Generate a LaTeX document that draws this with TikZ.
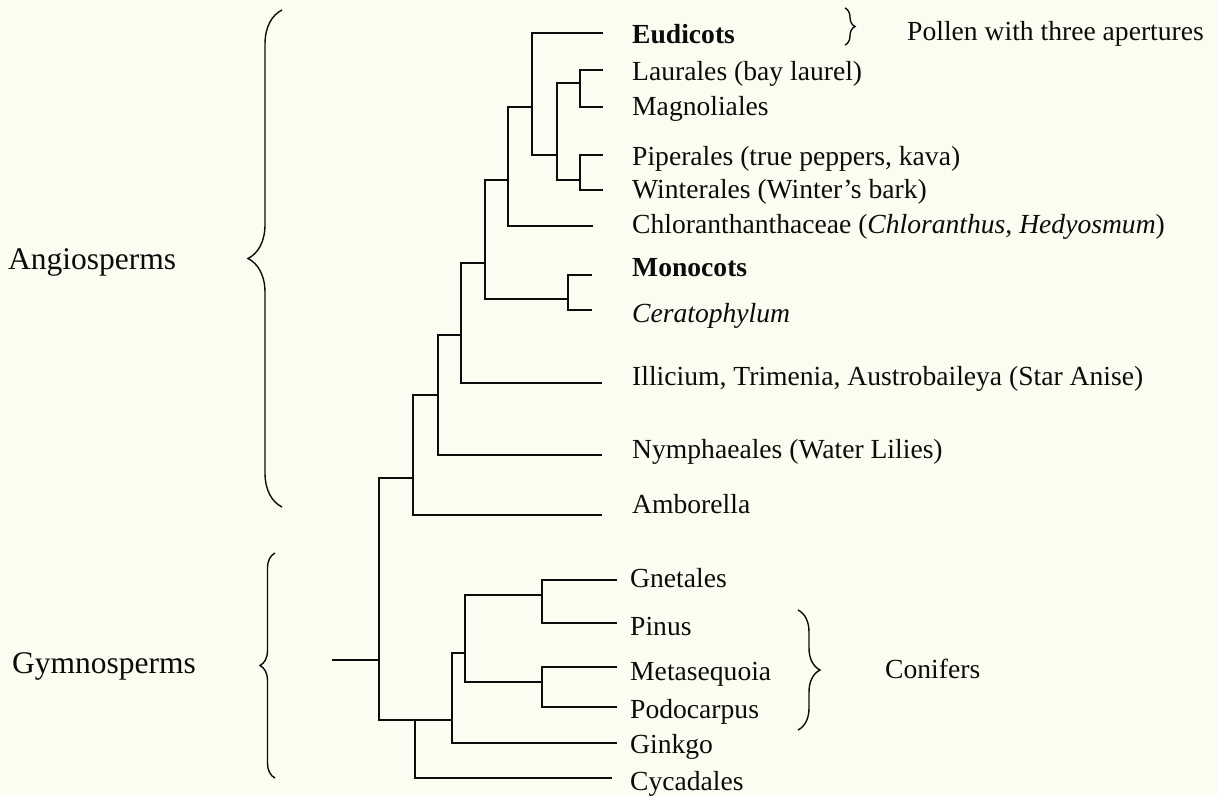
\documentclass[tikz,border=0pt]{standalone}
\usepackage{fontspec}
\setmainfont{Liberation Serif}
\usetikzlibrary{decorations.pathreplacing}
\definecolor{paper}{RGB}{252,253,240}
\definecolor{ink}{RGB}{12,12,12}
\begin{document}
\begin{tikzpicture}[x=1pt,y=-1pt,
  branch/.style={draw=ink, line width=2pt, line join=miter},
  taxon/.style={anchor=base west, inner sep=0pt, text=ink, font=\fontsize{27.6}{30}\selectfont},
  group/.style={anchor=base west, inner sep=0pt, text=ink, font=\fontsize{31.5}{36}\selectfont},
  bracket/.style={draw=ink, line width=1.4pt, decorate, decoration={brace, amplitude=#1}}]
\fill[paper] (0,0) rectangle (1217,796);
\useasboundingbox (0,0) rectangle (1217,796);

% taxon labels
\node[taxon] (tEud) at (632,43) {\textbf{Eudicots}};
\node[taxon] (tLau) at (632,80) {Laurales (bay laurel)};
\node[taxon] (tMag) at (632,115) {Magnoliales};
\node[taxon] (tPip) at (632,165) {Piperales (true peppers, kava)};
\node[taxon] (tWin) at (632,198) {Winterales (Winter’s bark)};
\node[taxon] (tChl) at (632,233) {Chloranthanthaceae (\textit{Chloranthus, Hedyosmum})};
\node[taxon] (tMon) at (632,276) {\textbf{Monocots}};
\node[taxon] (tCer) at (632,322) {\textit{Ceratophylum}};
\node[taxon] (tIll) at (632,385) {Illicium, Trimenia, Austrobaileya (Star Anise)};
\node[taxon] (tNym) at (632,458) {Nymphaeales (Water Lilies)};
\node[taxon] (tAmb) at (632,513) {Amborella};
\node[taxon] (tGne) at (630,587) {Gnetales};
\node[taxon] (tPin) at (630,635) {Pinus};
\node[taxon] (tMet) at (630,680) {Metasequoia};
\node[taxon] (tPod) at (630,718) {Podocarpus};
\node[taxon] (tGin) at (630,753) {Ginkgo};
\node[taxon] (tCyc) at (630,790) {Cycadales};

\node[taxon] (tPol) at (907,40) {Pollen with three apertures};
\node[taxon] (tCon) at (885,678) {Conifers};
\node[group] (tAng) at (8,269) {Angiosperms};
\node[group] (tGym) at (12,673) {Gymnosperms};

% leaf ends
\coordinate (eEud) at (603,33);
\coordinate (eLau) at (603,70);
\coordinate (eMag) at (603,107);
\coordinate (ePip) at (603,155);
\coordinate (eWin) at (603,190);
\coordinate (eChl) at (593,226);
\coordinate (eMon) at (592,275);
\coordinate (eCer) at (592,310);
\coordinate (eIll) at (602,383);
\coordinate (eNym) at (602,455);
\coordinate (eAmb) at (602,515);
\coordinate (eGne) at (617,580);
\coordinate (ePin) at (617,623);
\coordinate (eMet) at (617,667);
\coordinate (ePod) at (617,707);
\coordinate (eGin) at (617,743);
\coordinate (eCyc) at (612,778);

% internal nodes
\coordinate (nLM) at (580,83);
\coordinate (nPW) at (580,180);
\coordinate (nLMPW) at (557,155);
\coordinate (nEu) at (532,107);
\coordinate (nChl) at (508,180);
\coordinate (nMC) at (568,299);
\coordinate (nMag) at (485,263);
\coordinate (nIll) at (461,335);
\coordinate (nNym) at (438,395);
\coordinate (nAng) at (413,478);
\coordinate (nRoot) at (379,660);
\coordinate (rootStart) at (332,660);
\coordinate (nGym) at (415,720);
\coordinate (nGin) at (452,720);
\coordinate (nCon) at (465,653);
\coordinate (nGP) at (542,595);
\coordinate (nMP) at (542,682);

% branches
\draw[branch] (nLM) |- (eLau);
\draw[branch] (nLM) |- (eMag);
\draw[branch] (nPW) |- (ePip);
\draw[branch] (nPW) |- (eWin);
\draw[branch] (nLMPW) |- (nLM);
\draw[branch] (nLMPW) |- (nPW);
\draw[branch] (nEu) |- (eEud);
\draw[branch] (nEu) |- (nLMPW);
\draw[branch] (nChl) |- (nEu);
\draw[branch] (nChl) |- (eChl);
\draw[branch] (nMC) |- (eMon);
\draw[branch] (nMC) |- (eCer);
\draw[branch] (nMag) |- (nChl);
\draw[branch] (nMag) |- (nMC);
\draw[branch] (nIll) |- (nMag);
\draw[branch] (nIll) |- (eIll);
\draw[branch] (nNym) |- (nIll);
\draw[branch] (nNym) |- (eNym);
\draw[branch] (nAng) |- (nNym);
\draw[branch] (nAng) |- (eAmb);
\draw[branch] (rootStart) -- (nRoot);
\draw[branch] (nRoot) |- (nAng);
\draw[branch] (nRoot) |- (nGym);
\draw[branch] (nGym) -- (nGin);
\draw[branch] (nGym) |- (eCyc);
\draw[branch] (nGin) |- (nCon);
\draw[branch] (nGin) |- (eGin);
\draw[branch] (nCon) |- (nGP);
\draw[branch] (nCon) |- (nMP);
\draw[branch] (nGP) |- (eGne);
\draw[branch] (nGP) |- (ePin);
\draw[branch] (nMP) |- (eMet);
\draw[branch] (nMP) |- (ePod);

% braces
\coordinate (bAngB) at (282,507);
\coordinate (bAngT) at (282,10);
\coordinate (bGymB) at (275,778);
\coordinate (bGymT) at (275,553);
\coordinate (bConT) at (798,610);
\coordinate (bConB) at (798,730);
\coordinate (bEuT) at (845,8);
\coordinate (bEuB) at (845,45);
\draw[bracket=34pt] (bAngB) -- (bAngT);
\draw[bracket=15pt] (bGymB) -- (bGymT);
\draw[bracket=22pt] (bConT) -- (bConB);
\draw[bracket=10pt] (bEuT) -- (bEuB);
\end{tikzpicture}
\end{document}
